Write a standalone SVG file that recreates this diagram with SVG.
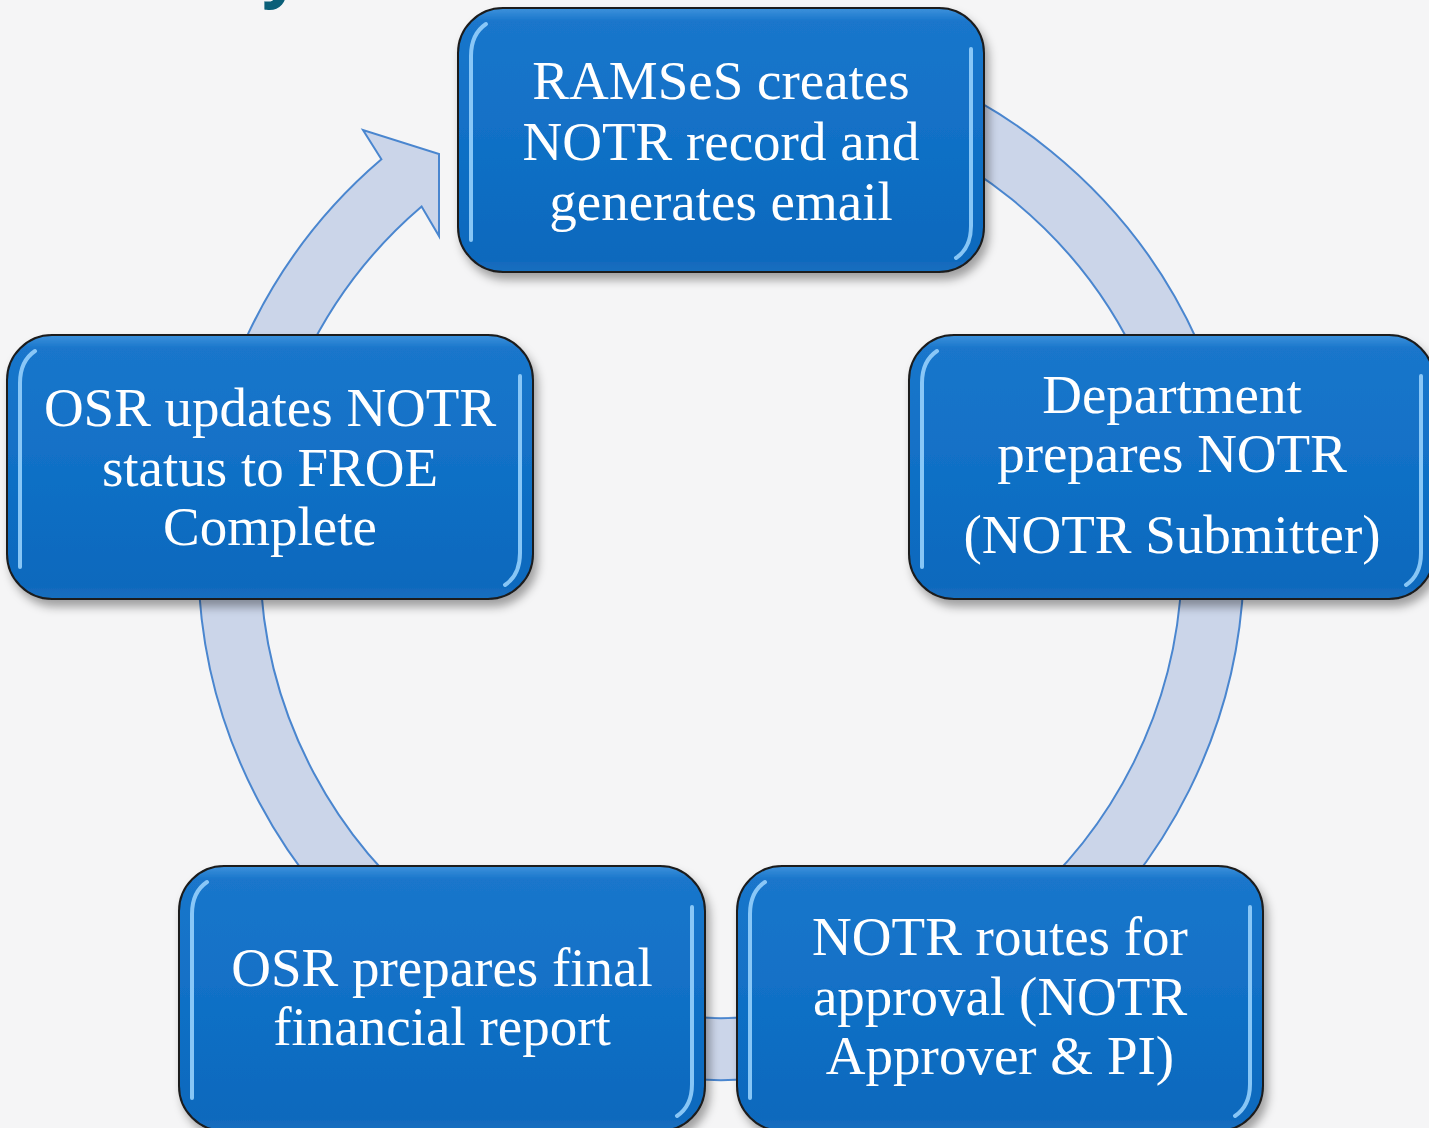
<svg xmlns="http://www.w3.org/2000/svg" width="1429" height="1128" viewBox="0 0 1429 1128">
  <defs>
    <linearGradient id="boxFill" x1="0" y1="0" x2="0" y2="1">
      <stop offset="0" stop-color="#3d92dc"/>
      <stop offset="0.05" stop-color="#1a76cb"/>
      <stop offset="0.5" stop-color="#1170c6"/>
      <stop offset="0.95" stop-color="#0f69bd"/>
      <stop offset="1" stop-color="#1a6fbf"/>
    </linearGradient>
    <filter id="shadow" x="-10%" y="-10%" width="125%" height="130%">
      <feDropShadow dx="4" dy="7" stdDeviation="5" flood-color="#000000" flood-opacity="0.35"/>
    </filter>
    <style>
      .box { fill: url(#boxFill); stroke: #1c1c1c; stroke-width: 2; filter: url(#shadow); }
      .hl { fill: none; stroke: #9dd6ff; stroke-width: 4; stroke-linecap: round; opacity: 0.85; }
      .lbl { font-family: "Liberation Serif", "Times New Roman", serif; font-size: 55px; fill: #ffffff; text-anchor: middle; }
      .ring { fill: #cbd5e9; stroke: #4a86cf; stroke-width: 2; stroke-linejoin: miter; }
    </style>
  </defs>

  <rect x="0" y="0" width="1429" height="1128" fill="#f5f5f6"/>

  <text x="262" y="-7" font-family="Open Sans, Liberation Sans, sans-serif" font-weight="bold" font-size="70" fill="#0b5f78">y</text>

  <g id="connectors">
    <path class="ring" d="M856.4,51.8 A523,523 0 1,1 381.4,159.3 L363,130 L439,154 L439,236 L421.6,206.5 A461,461 0 1,0 840.3,111.7 Z"/>
  </g>

  <g id="node-ramses">
    <rect class="box" x="458" y="8" width="526" height="264" rx="45" ry="45"/>
    <path class="hl" d="M471,240 L471,56 Q471,34 486,24"/>
    <path class="hl" d="M971,49 L971,226 Q971,248 956,258"/>
    <text class="lbl" x="721" y="99">RAMSeS creates</text>
    <text class="lbl" x="721" y="160">NOTR record and</text>
    <text class="lbl" x="721" y="220">generates email</text>
  </g>

  <g id="node-department">
    <rect class="box" x="909" y="335" width="525" height="264" rx="45" ry="45"/>
    <path class="hl" d="M922,567 L922,383 Q922,361 937,351"/>
    <path class="hl" d="M1421,376 L1421,553 Q1421,575 1406,585"/>
    <text class="lbl" x="1172" y="413">Department</text>
    <text class="lbl" x="1172" y="472">prepares NOTR</text>
    <text class="lbl" x="1172" y="553">(NOTR Submitter)</text>
  </g>

  <g id="node-routes">
    <rect class="box" x="737" y="866" width="526" height="265" rx="45" ry="45"/>
    <path class="hl" d="M750,1098 L750,914 Q750,892 765,882"/>
    <path class="hl" d="M1250,907 L1250,1084 Q1250,1106 1235,1116"/>
    <text class="lbl" x="1000" y="955">NOTR routes for</text>
    <text class="lbl" x="1000" y="1015">approval (NOTR</text>
    <text class="lbl" x="1000" y="1074">Approver &amp; PI)</text>
  </g>

  <g id="node-prepares">
    <rect class="box" x="179" y="866" width="526" height="265" rx="45" ry="45"/>
    <path class="hl" d="M192,1098 L192,914 Q192,892 207,882"/>
    <path class="hl" d="M692,907 L692,1084 Q692,1106 677,1116"/>
    <text class="lbl" x="442" y="986">OSR prepares final</text>
    <text class="lbl" x="442" y="1045">financial report</text>
  </g>

  <g id="node-updates">
    <rect class="box" x="7" y="335" width="526" height="264" rx="45" ry="45"/>
    <path class="hl" d="M20,567 L20,383 Q20,361 35,351"/>
    <path class="hl" d="M520,376 L520,553 Q520,575 505,585"/>
    <text class="lbl" x="270" y="426">OSR updates NOTR</text>
    <text class="lbl" x="270" y="486">status to FROE</text>
    <text class="lbl" x="270" y="545">Complete</text>
  </g>
</svg>
